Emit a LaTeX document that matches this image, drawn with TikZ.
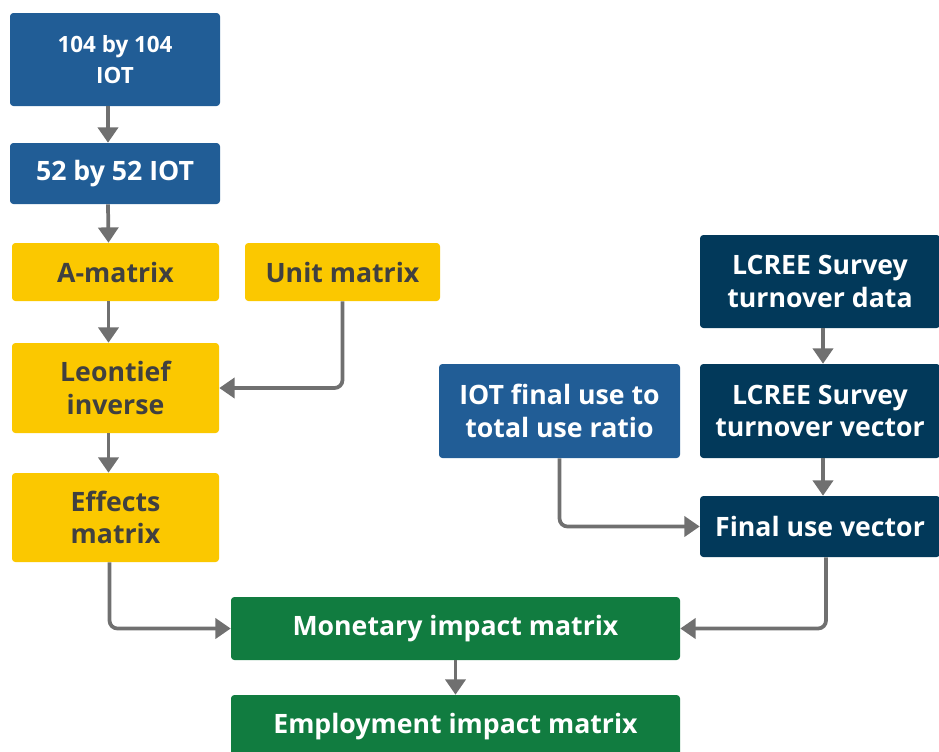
\documentclass[tikz,border=0pt]{standalone}
\usepackage{fontspec}
\setmainfont{Open Sans}
\usetikzlibrary{arrows.meta}
\definecolor{cblue}{RGB}{33,93,150}
\definecolor{cnavy}{RGB}{2,57,90}
\definecolor{cyellow}{RGB}{251,200,0}
\definecolor{cgreen}{RGB}{17,124,64}
\definecolor{cgrey}{RGB}{112,112,112}
\definecolor{ctext}{RGB}{64,64,64}
\tikzset{
  box/.style={rectangle, rounded corners=2.5pt, inner sep=0pt, align=center,
    font=\fontsize{20pt}{24.5pt}\selectfont\bfseries},
  bluebox/.style={box, fill=cblue, text=white},
  navybox/.style={box, fill=cnavy, text=white},
  yelbox/.style={box, fill=cyellow, text=ctext},
  greenbox/.style={box, fill=cgreen, text=white},
  conn/.style={draw=cgrey, line width=2.8pt, rounded corners=6pt,
    -{Triangle[length=11.5pt,width=15pt]}},
}
\begin{document}
\begin{tikzpicture}[x=0.75pt,y=-0.75pt]
\useasboundingbox (0,0) rectangle (939,751);
% left column
\node[bluebox, minimum width=210*0.75pt, minimum height=93*0.75pt,
  font=\fontsize{16.8pt}{23pt}\selectfont\bfseries] (iot104) at (115,59.5) {104 by 104\\IOT};
\node[bluebox, minimum width=210*0.75pt, minimum height=61*0.75pt] (iot52) at (115,173.5) {52 by 52 IOT};
\node[yelbox, minimum width=207*0.75pt, minimum height=58*0.75pt] (amat) at (115.5,272) {A-matrix};
\node[yelbox, minimum width=195*0.75pt, minimum height=58*0.75pt] (unit) at (342.5,272) {Unit matrix};
\node[yelbox, minimum width=207*0.75pt, minimum height=90*0.75pt] (leon) at (115.5,388) {Leontief\\inverse};
\node[yelbox, minimum width=207*0.75pt, minimum height=89*0.75pt] (eff) at (115.5,517.5) {Effects\\matrix};
% right column
\node[navybox, minimum width=240*0.75pt, minimum height=93*0.75pt] (ldata) at (820,281.5) {LCREE Survey\\turnover data};
\node[navybox, minimum width=240*0.75pt, minimum height=94*0.75pt] (lvec) at (820,411) {LCREE Survey\\turnover vector};
\node[bluebox, minimum width=241*0.75pt, minimum height=94*0.75pt] (ratio) at (559.5,411) {IOT final use to\\total use ratio};
\node[navybox, minimum width=240*0.75pt, minimum height=61*0.75pt] (fuv) at (820,526.5) {Final use vector};
% bottom
\node[greenbox, minimum width=449*0.75pt, minimum height=63*0.75pt] (mon) at (455.5,628.5) {Monetary impact matrix};
\node[greenbox, minimum width=449*0.75pt, minimum height=63*0.75pt] (emp) at (455.5,726.5) {Employment impact matrix};
% connectors
\draw[conn] ([xshift=-7*0.75pt]iot104.south) -- ([xshift=-7*0.75pt]iot52.north);
\draw[conn] ([xshift=-7*0.75pt]iot52.south) -- ([xshift=-7*0.75pt]amat.north);
\draw[conn] ([xshift=-7*0.75pt]amat.south) -- ([xshift=-7*0.75pt]leon.north);
\draw[conn] ([xshift=-7*0.75pt]leon.south) -- ([xshift=-7*0.75pt]eff.north);
\draw[conn] (unit.south) |- (leon.east);
\draw[conn] ([xshift=-6*0.75pt]eff.south) |- (mon.west);
\draw[conn] ([xshift=3*0.75pt]ldata.south) -- ([xshift=3*0.75pt]lvec.north);
\draw[conn] ([xshift=3*0.75pt]lvec.south) -- ([xshift=3*0.75pt]fuv.north);
\draw[conn] (ratio.south) |- (fuv.west);
\draw[conn] ([xshift=6*0.75pt]fuv.south) |- (mon.east);
\draw[conn] (mon) -- (emp);
\end{tikzpicture}
\end{document}
